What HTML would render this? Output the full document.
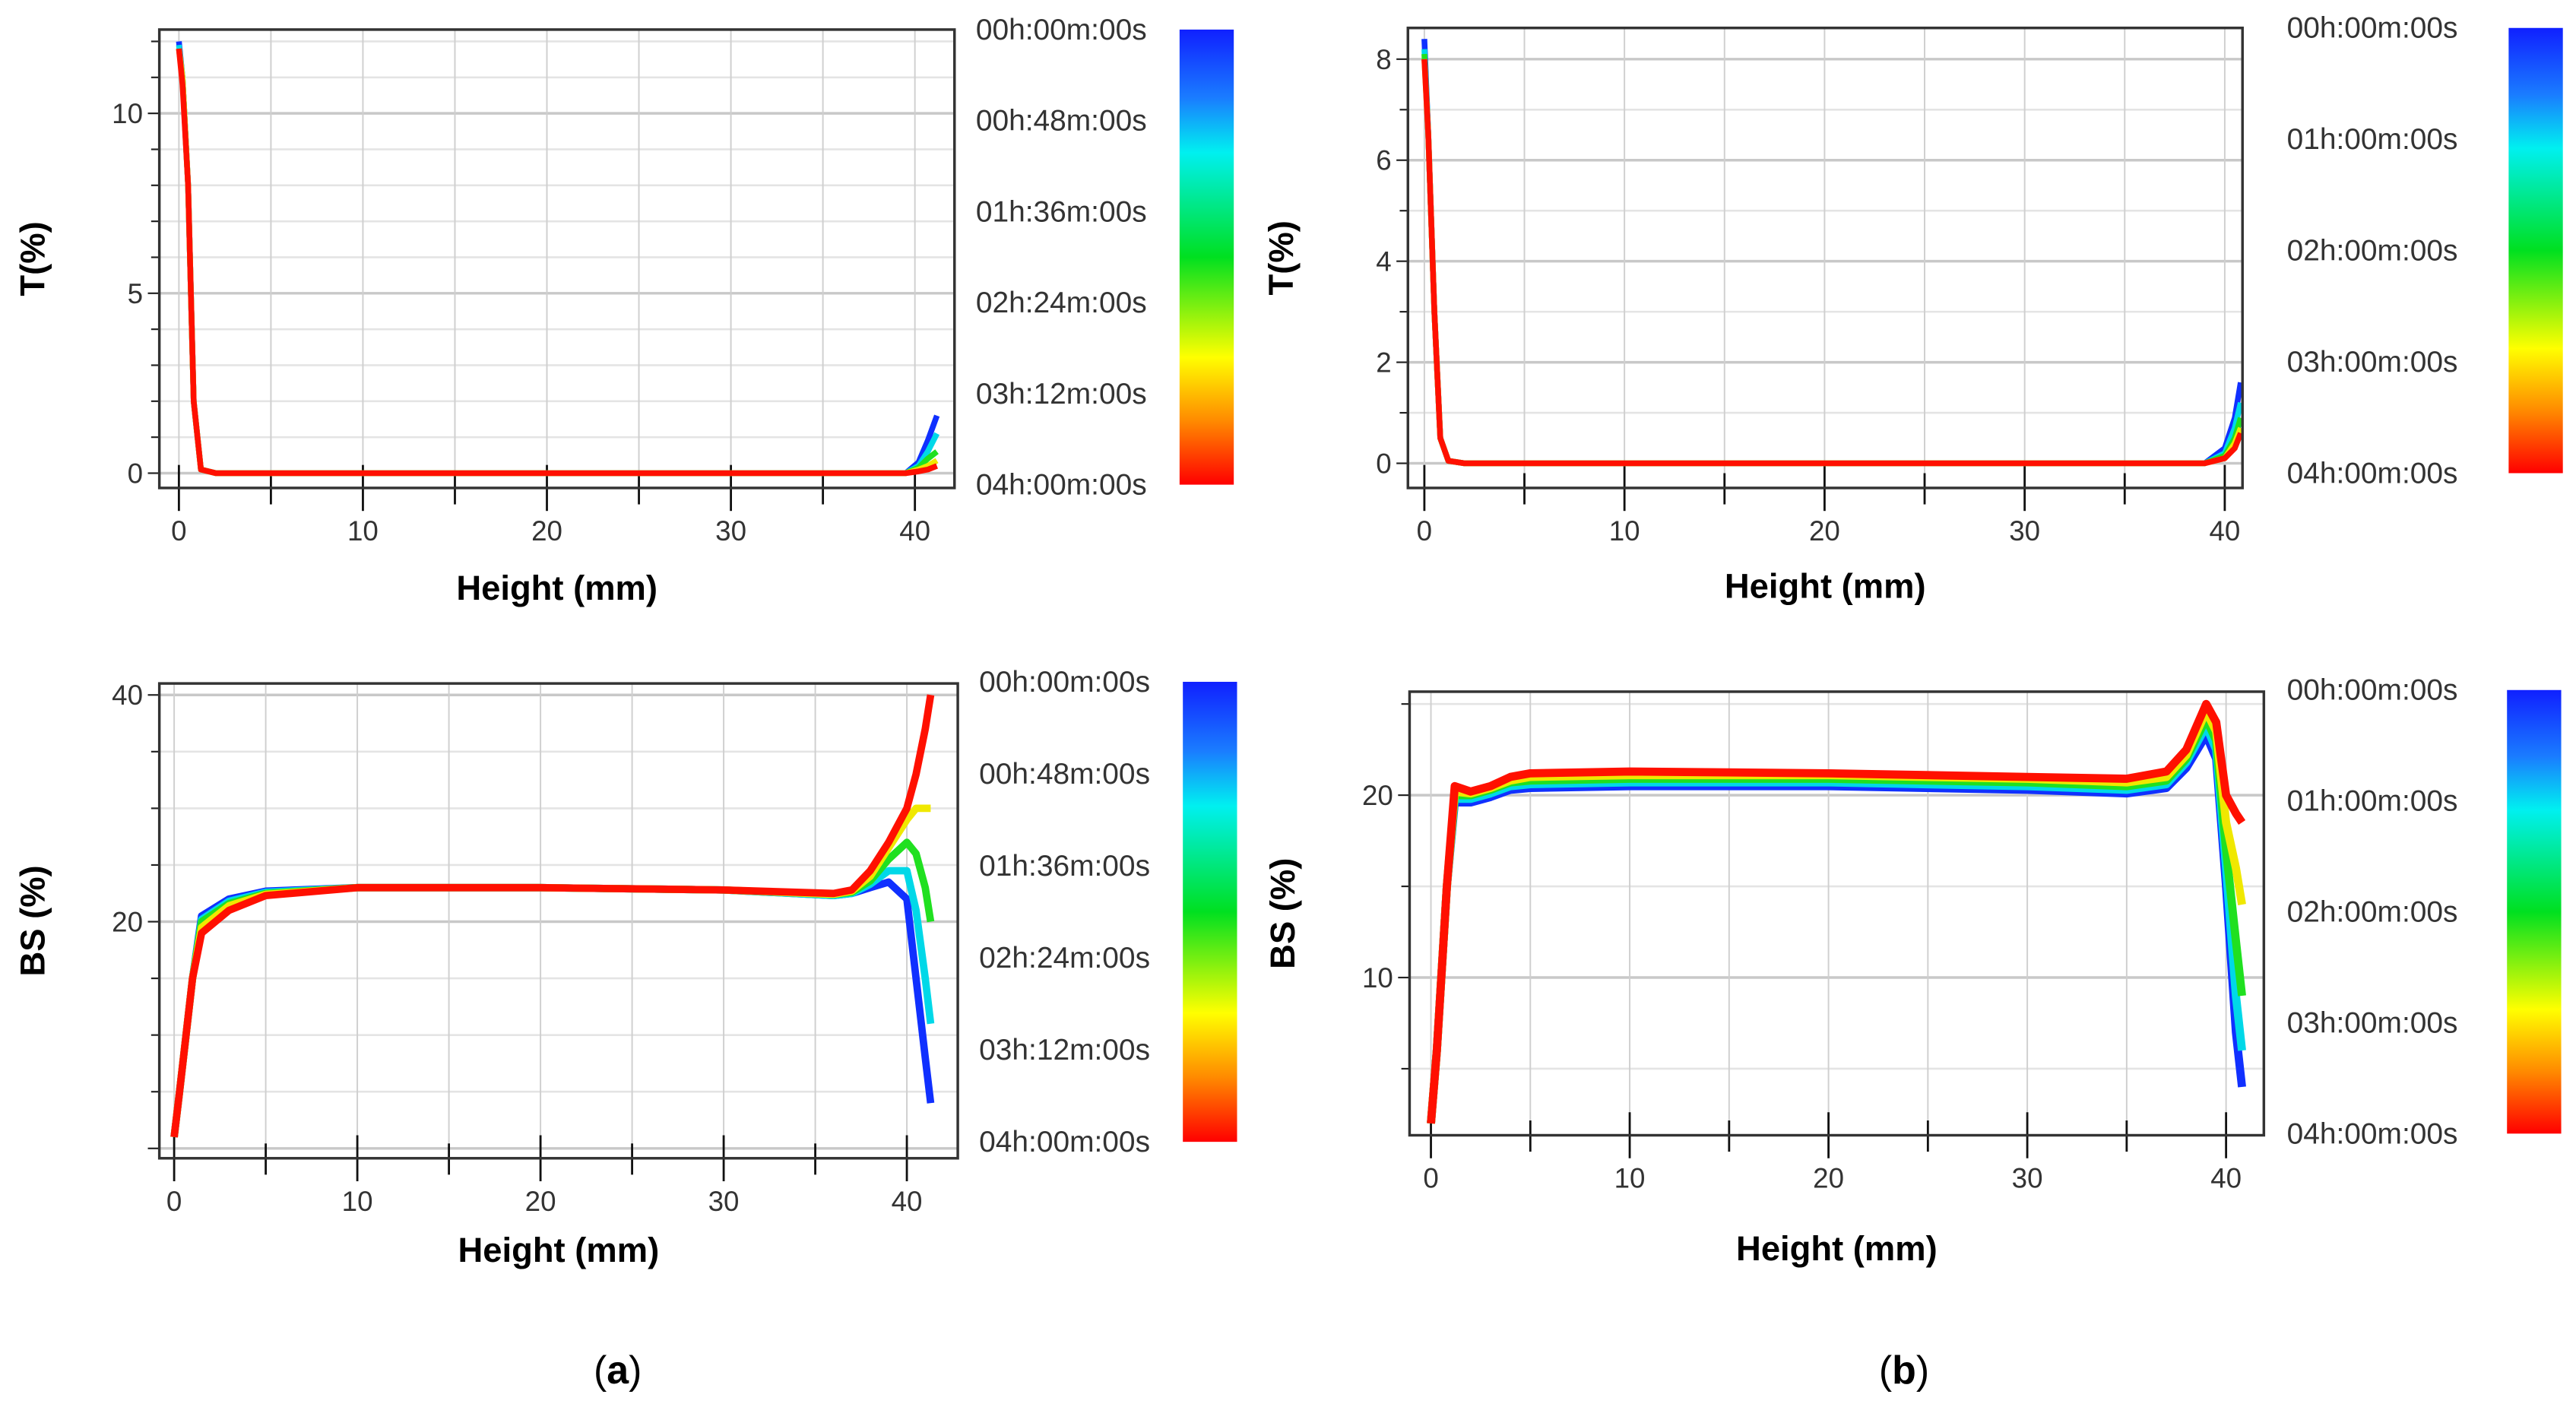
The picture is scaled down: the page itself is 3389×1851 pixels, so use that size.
<!DOCTYPE html>
<html><head><meta charset="utf-8"><style>
html,body{margin:0;padding:0;background:#fff;}
svg{display:block;}
text{font-family:"Liberation Sans",sans-serif;}
.tk{font-family:"Liberation Sans Narrow","Liberation Sans",sans-serif;}
</style></head><body>
<svg id="fig" width="3389" height="1851" viewBox="0 0 1568 856.4" xmlns="http://www.w3.org/2000/svg">
<defs>
<linearGradient id="cb" x1="0" y1="0" x2="0" y2="1">
<stop offset="0" stop-color="#1020ff"/><stop offset="0.15" stop-color="#1a7cff"/><stop offset="0.27" stop-color="#00f0f0"/><stop offset="0.5" stop-color="#00e020"/><stop offset="0.72" stop-color="#ffff00"/><stop offset="0.86" stop-color="#ff8a00"/><stop offset="1" stop-color="#ff0000"/>
</linearGradient>
</defs>
<text x="376" y="842" font-family="Liberation Serif" font-size="24" text-anchor="middle">(<tspan font-weight="bold">a</tspan>)</text>
<text x="1159" y="842" font-family="Liberation Serif" font-size="24" text-anchor="middle">(<tspan font-weight="bold">b</tspan>)</text>
</svg>
<script>
// ---- data ----
const seriesColors = ["#1030ff","#00d8e8","#20e020","#f0e800","#ff1000"];
// Panel a, transmission
const taX = [0,0.2,0.5,0.8,1.2,2,10,20,30,38,39.5,40.2,40.7,41.2];
const taS = [
 [12,11,8,2,0.1,0,0,0,0,0,0,0.3,0.9,1.6],
 [11.9,11,8,2,0.1,0,0,0,0,0,0,0.2,0.6,1.1],
 [11.8,11,8,2,0.1,0,0,0,0,0,0,0.15,0.4,0.6],
 [11.8,11,8,2,0.1,0,0,0,0,0,0,0.1,0.2,0.35],
 [11.8,10.8,8,2,0.1,0,0,0,0,0,0,0.05,0.1,0.2]];
// Panel a, backscattering
const baX = [0,0.3,1,1.5,3,5,10,20,30,36,37,38,39,40,40.5,41,41.3];
const baS = [
 [1,5,15,20.5,22,22.7,23,23,22.8,22.3,22.5,23,23.5,22,15,8,4],
 [1,5,15,20.2,21.8,22.6,23,23,22.8,22.3,22.5,23.3,24.5,24.5,21,15,11],
 [1,5,15,20,21.6,22.5,23,23,22.8,22.4,22.6,23.6,25.5,27,26,23,20],
 [1,5,15,19.5,21.4,22.4,23,23,22.8,22.4,22.7,24,26.5,29,30,30,30],
 [1,5,15,19,21,22.3,23,23,22.8,22.5,22.8,24.5,27,30,33,37,40]];
// Panel b, transmission
const tbX = [0,0.2,0.5,0.8,1.2,2,10,20,30,39,40,40.5,40.8];
const tbS = [
 [8.4,6.5,3,0.5,0.05,0,0,0,0,0,0.3,0.9,1.6],
 [8.2,6.5,3,0.5,0.05,0,0,0,0,0,0.2,0.7,1.2],
 [8.1,6.5,3,0.5,0.05,0,0,0,0,0,0.15,0.5,0.9],
 [8,6.5,3,0.5,0.05,0,0,0,0,0,0.1,0.4,0.7],
 [8,6.5,3,0.5,0.05,0,0,0,0,0,0.1,0.3,0.6]];
// Panel b, backscattering
const bbX = [0,0.3,0.8,1.2,2,3,4,5,10,20,30,35,37,38,39,39.5,40,40.5,40.8];
const bbS = [
 [2,6,15,19.6,19.6,19.9,20.3,20.4,20.5,20.5,20.3,20.1,20.4,21.5,23.3,22,15,7,4],
 [2,6,15,19.8,19.8,20.1,20.5,20.6,20.7,20.7,20.5,20.3,20.6,21.8,23.8,22.5,16,9,6],
 [2,6,15,20,20,20.3,20.7,20.8,20.9,20.9,20.7,20.5,20.8,22,24.2,23,17,12,9],
 [2,6,15,20.2,20.1,20.4,20.8,21,21.1,21.1,20.9,20.7,21,22.2,24.6,23.5,18.5,16,14],
 [2,6,15,20.5,20.2,20.5,21,21.2,21.3,21.2,21,20.9,21.3,22.5,25,24,20,19,18.5]];
const timeLabelsA = ["00h:00m:00s","00h:48m:00s","01h:36m:00s","02h:24m:00s","03h:12m:00s","04h:00m:00s"];
const timeLabelsB = ["00h:00m:00s","01h:00m:00s","02h:00m:00s","03h:00m:00s","04h:00m:00s"];
const xTicks = [0,10,20,30,40];

const NS="http://www.w3.org/2000/svg";
const svg=document.getElementById('fig');
function el(tag,attrs,parent){const e=document.createElementNS(NS,tag);for(const k in attrs)e.setAttribute(k,attrs[k]);(parent||svg).appendChild(e);return e;}

function panel(p){
 const g=el('g',{});
 
 
 const sx=v=>p.x0+(v)*p.kx, sy=v=>p.y0-v*p.ky;
 for(let v=p.yMin;v<=p.yMax+1e-9;v+=p.yMinor){
  const y=sy(v); if(y<p.top||y>p.bot) continue;
  const major=Math.abs(v/p.yMajor-Math.round(v/p.yMajor))<1e-6;
  el('line',{x1:p.left,x2:p.right,y1:y,y2:y,stroke:major?'#c8c8c8':'#e4e4e4','stroke-width':major?1.6:1.2},g);
  el('line',{x1:p.left-(major?7:5),x2:p.left,y1:y,y2:y,stroke:'#222','stroke-width':1},g);
 }
 for(let v=0;v<=40;v+=5){
  const x=sx(v);
  el('line',{x1:x,x2:x,y1:p.top,y2:p.bot,stroke:'#cfcfcf','stroke-width':0.9},g);
  const major=v%10===0;
  el('line',{x1:x,x2:x,y1:p.bot-(major?14:9),y2:p.bot+(major?14:10),stroke:'#111','stroke-width':1.3},g);
 }
 xTicks.forEach(v=>{const t=el('text',{class:'tk',x:sx(v),y:p.bot+32,'font-size':17,'text-anchor':'middle',fill:'#333'},g);t.textContent=v;});
 p.yLabels.forEach(v=>{const t=el('text',{class:'tk',x:p.left-10,y:sy(v)+6,'font-size':17,'text-anchor':'end',fill:'#333'},g);t.textContent=v;});
 const cp=el('clipPath',{id:'c'+p.name},g);
 el('rect',{x:p.left,y:p.top,width:p.right-p.left,height:p.bot-p.top},cp);
 const sg=el('g',{'clip-path':'url(#c'+p.name+')'},g);
 p.series.forEach((s,i)=>{
  const pts=s.map((v,j)=>sx(p.xs[j]).toFixed(1)+','+sy(v).toFixed(1)).join(' ');
  const pl=el('polyline',{points:pts,fill:'none',stroke:seriesColors[i],'stroke-width':p.sw,'stroke-linejoin':'round'},sg);
  
  
 });
 el('rect',{x:p.left,y:p.top,width:p.right-p.left,height:p.bot-p.top,fill:'none',stroke:'#333','stroke-width':1.6},g);
 const yl=el('text',{x:0,y:0,'font-size':21,'font-weight':'bold','text-anchor':'middle',transform:`translate(${p.left-70},${(p.top+p.bot)/2}) rotate(-90)`},g);
 yl.textContent=p.ylabel;
 
 
 const xl=el('text',{x:(p.left+p.right)/2,y:p.bot+p.xtOff,'font-size':21,'font-weight':'bold','text-anchor':'middle'},g);
 xl.textContent='Height (mm)';
 
 
 const cb=el('rect',{x:p.cbx,y:p.cbTop,width:33,height:p.cbBot-p.cbTop,fill:'url(#cb)'},g);
 
 
 const n=p.tl.length;
 p.tl.forEach((s,i)=>{const y=p.cbTop+(p.cbBot-p.cbTop)*i/(n-1)+6;const t=el('text',{class:'tk',x:p.lx,y:y,'font-size':18,fill:'#333'},g);t.textContent=s;});
}
panel({name:'transmission-a',left:97,right:581,top:18,bot:297,x0:108.9,kx:11.2,y0:288,ky:21.9,yMin:0,yMax:12,yMinor:1,yMajor:5,yLabels:[0,5,10],xs:taX,series:taS,sw:3.5,ylabel:'T(%)',cbx:718,cbTop:18,cbBot:295,lx:594,tl:timeLabelsA,xtOff:68});
panel({name:'backscattering-a',left:97,right:583,top:416,bot:705,x0:106,kx:11.15,y0:699,ky:6.9,yMin:0,yMax:40,yMinor:5,yMajor:20,yLabels:[20,40],xs:baX,series:baS,sw:4.5,ylabel:'BS (%)',cbx:720,cbTop:415,cbBot:695,lx:596,tl:timeLabelsA,xtOff:63});
panel({name:'transmission-b',left:857,right:1365,top:17,bot:297,x0:867,kx:12.18,y0:282,ky:30.75,yMin:0,yMax:8,yMinor:1,yMajor:2,yLabels:[0,2,4,6,8],xs:tbX,series:tbS,sw:3.5,ylabel:'T(%)',cbx:1527,cbTop:17,cbBot:288,lx:1392,tl:timeLabelsB,xtOff:67});
panel({name:'backscattering-b',left:858,right:1378,top:421,bot:691,x0:871,kx:12.1,y0:706,ky:11.1,yMin:0,yMax:25,yMinor:5,yMajor:10,yLabels:[10,20],xs:bbX,series:bbS,sw:5,ylabel:'BS (%)',cbx:1526,cbTop:420,cbBot:690,lx:1392,tl:timeLabelsB,xtOff:76});
</script>
</body></html>
